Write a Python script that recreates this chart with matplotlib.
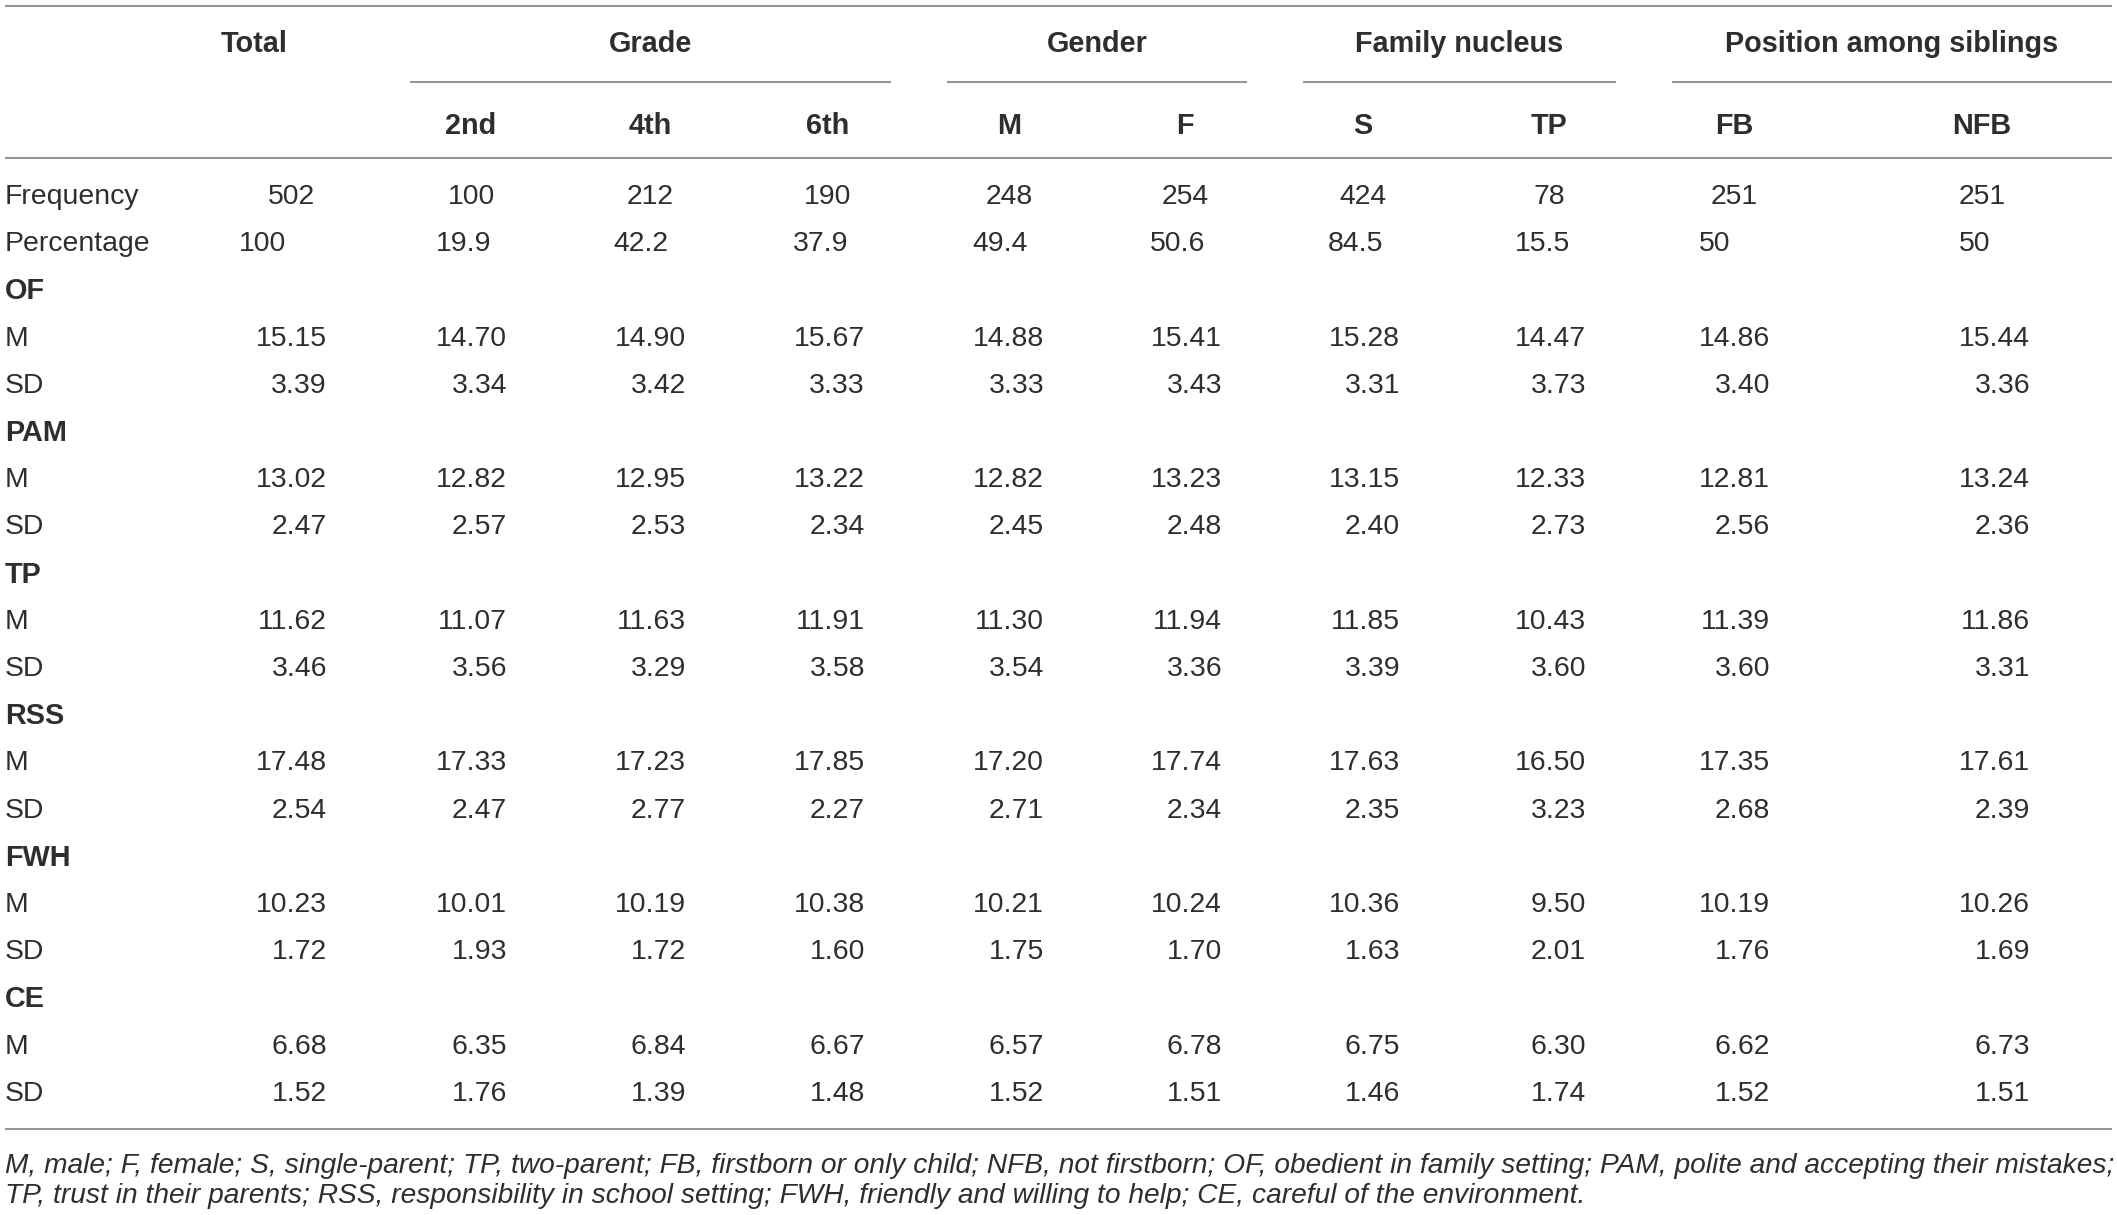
#!/usr/bin/env python3

import matplotlib

matplotlib.use("Agg")
import matplotlib.pyplot as plt


W, H = 2117, 1215

COLUMNS = ["Total", "2nd", "4th", "6th", "M", "F", "S", "TP", "FB", "NFB"]
GROUPS = [
    ("Grade", 1, 3),
    ("Gender", 4, 5),
    ("Family nucleus", 6, 7),
    ("Position among siblings", 8, 9),
]

FREQUENCY = [502, 100, 212, 190, 248, 254, 424, 78, 251, 251]
PERCENTAGE = [100, 19.9, 42.2, 37.9, 49.4, 50.6, 84.5, 15.5, 50, 50]

VARIABLES = ["OF", "PAM", "TP", "RSS", "FWH", "CE"]
MEANS = [
    [15.15, 14.70, 14.90, 15.67, 14.88, 15.41, 15.28, 14.47, 14.86, 15.44],
    [13.02, 12.82, 12.95, 13.22, 12.82, 13.23, 13.15, 12.33, 12.81, 13.24],
    [11.62, 11.07, 11.63, 11.91, 11.30, 11.94, 11.85, 10.43, 11.39, 11.86],
    [17.48, 17.33, 17.23, 17.85, 17.20, 17.74, 17.63, 16.50, 17.35, 17.61],
    [10.23, 10.01, 10.19, 10.38, 10.21, 10.24, 10.36, 9.50, 10.19, 10.26],
    [6.68, 6.35, 6.84, 6.67, 6.57, 6.78, 6.75, 6.30, 6.62, 6.73],
]
SDS = [
    [3.39, 3.34, 3.42, 3.33, 3.33, 3.43, 3.31, 3.73, 3.40, 3.36],
    [2.47, 2.57, 2.53, 2.34, 2.45, 2.48, 2.40, 2.73, 2.56, 2.36],
    [3.46, 3.56, 3.29, 3.58, 3.54, 3.36, 3.39, 3.60, 3.60, 3.31],
    [2.54, 2.47, 2.77, 2.27, 2.71, 2.34, 2.35, 3.23, 2.68, 2.39],
    [1.72, 1.93, 1.72, 1.60, 1.75, 1.70, 1.63, 2.01, 1.76, 1.69],
    [1.52, 1.76, 1.39, 1.48, 1.52, 1.51, 1.46, 1.74, 1.52, 1.51],
]

FOOTNOTE = [
    "M, male; F, female; S, single-parent; TP, two-parent; FB, firstborn or only child; "
    "NFB, not firstborn; OF, obedient in family setting; PAM, polite and accepting their mistakes;",
    "TP, trust in their parents; RSS, responsibility in school setting; "
    "FWH, friendly and willing to help; CE, careful of the environment.",
]

# layout (pixels)
HEAD_X = [254, 471, 650, 828, 1009, 1185, 1363, 1549, 1734, 1982]
RIGHT_X = [327, 507, 686, 865, 1044, 1222, 1400, 1586, 1770, 2030]
FREQ_X = [291] + HEAD_X[1:]
PCT_X = [239, 436, 613, 793, 972, 1150, 1328, 1515, 1699, 1959]
GROUP_SPAN = [(410, 891), (947, 1247), (1303, 1616), (1672, 2112)]
ROW0, ROW_STEP = 194, 47.2
LEFT = 5

FONT = "Liberation Sans"
FS = 20.4
FS_HEAD = 20.8
FS_NOTE = 20.25
TXT = "#2e2e2e"
RULE = "#8a8a8a"


def main() -> None:
    fig = plt.figure(figsize=(W / 100, H / 100), dpi=100)
    ax = fig.add_axes([0, 0, 1, 1])
    ax.set_xlim(0, W)
    ax.set_ylim(H, 0)
    ax.axis("off")

    def rule(y, x0=LEFT, x1=W - 5):
        ax.plot([x0, x1], [y, y], color=RULE, linewidth=1.3, solid_capstyle="butt")

    def txt(x, y, s, ha="left", bold=False, italic=False, size=FS):
        ax.text(x, y, s, ha=ha, va="center_baseline", fontsize=size, family=FONT,
                fontweight="bold" if bold else "normal",
                fontstyle="italic" if italic else "normal", color=TXT)

    # header
    rule(6)
    txt(HEAD_X[0], 41, COLUMNS[0], ha="center", bold=True, size=FS_HEAD)
    for (name, _, _), (x0, x1) in zip(GROUPS, GROUP_SPAN):
        txt((x0 + x1) / 2, 41, name, ha="center", bold=True, size=FS_HEAD)
        rule(82, x0, x1)
    for x, name in zip(HEAD_X[1:], COLUMNS[1:]):
        txt(x, 123, name, ha="center", bold=True, size=FS_HEAD)
    rule(158)

    # body
    rows = []
    rows.append(("Frequency", [(x, f"{v}", "center") for x, v in zip(FREQ_X, FREQUENCY)], False))
    rows.append(("Percentage", [(x, f"{v:g}", "left") for x, v in zip(PCT_X, PERCENTAGE)], False))
    for var, means, sds in zip(VARIABLES, MEANS, SDS):
        rows.append((var, [], True))
        rows.append(("M", [(x, f"{v:.2f}", "right") for x, v in zip(RIGHT_X, means)], False))
        rows.append(("SD", [(x, f"{v:.2f}", "right") for x, v in zip(RIGHT_X, sds)], False))

    for i, (label, cells, bold) in enumerate(rows):
        y = ROW0 + i * ROW_STEP
        txt(LEFT, y, label, bold=bold, size=FS_HEAD if bold else FS)
        for x, s, ha in cells:
            txt(x, y, s, ha=ha)

    rule(1129)
    for j, line in enumerate(FOOTNOTE):
        txt(LEFT, 1163 + j * 30, line, italic=True, size=FS_NOTE)

    fig.savefig("out.png", dpi=100, facecolor="white")
    plt.close(fig)


if __name__ == "__main__":
    main()
